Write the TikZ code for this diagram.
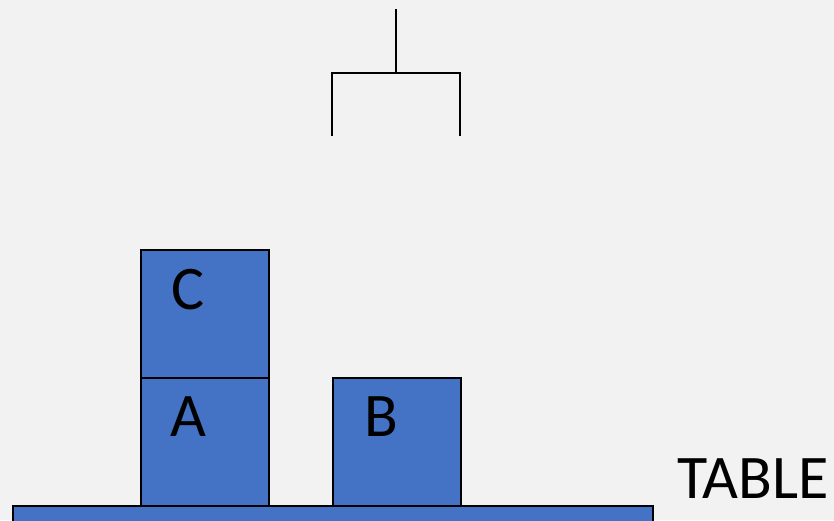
\documentclass[tikz,border=0pt]{standalone}
\usepackage{fontspec}
\setmainfont{Carlito}
\usetikzlibrary{positioning}
\definecolor{blockblue}{RGB}{68,114,196}
\definecolor{bggray}{RGB}{242,242,242}

\begin{document}
\begin{tikzpicture}[
    x=1pt, y=-1pt,
    block/.style={
        draw=black,
        line width=1.6pt,
        fill=blockblue,
        minimum width=128pt,
        minimum height=128pt,
        inner sep=0pt
    },
    letter/.style={
        font=\fontsize{62}{62}\selectfont,
        inner sep=0pt
    },
    grip/.style={
        line width=1.6pt,
        black
    }
]

% ---------------- Background ----------------
\fill[bggray] (0,0) rectangle (834,520);
\useasboundingbox (0,0) rectangle (834,520);
\clip (0,0) rectangle (834,520);

% ---------------- Table ----------------
\node[block, minimum width=640pt, minimum height=30pt, anchor=north west] (table) at (12,505) {};
\node[letter, anchor=center] (tablelabel) at (753,479) {TABLE};

% ---------------- Blocks ----------------
\node[block, anchor=north west] (blockA) at (140,377) {};
\node[block, anchor=north west] (blockC) at (140,249) {};
\node[block, anchor=north west] (blockB) at (332,377) {};

\node[letter] (labelC) at (188,290) {C};
\node[letter] (labelA) at (188,417) {A};
\node[letter] (labelB) at (381,417) {B};

% ---------------- Gripper ----------------
\coordinate (top) at (396,9);
\coordinate (mid) at (396,73);
\coordinate (leftbar) at (332,73);
\coordinate (rightbar) at (460,73);
\coordinate (lefttip) at (332,136);
\coordinate (righttip) at (460,136);

\draw[grip] (top) -- (mid);
\draw[grip] (lefttip) -- (leftbar) -- (rightbar) -- (righttip);

\end{tikzpicture}
\end{document}
